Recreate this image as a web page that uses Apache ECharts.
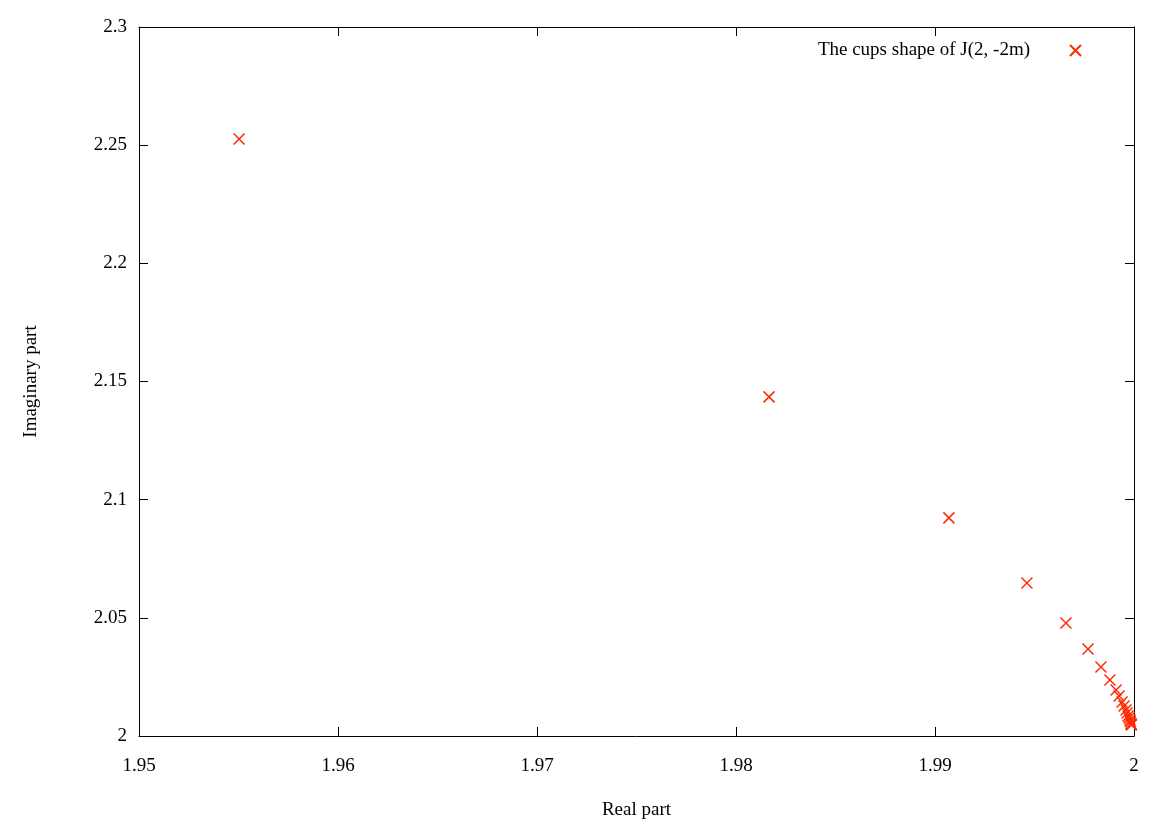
<!DOCTYPE html>
<html>
<head>
<meta charset="utf-8">
<script src="https://cdn.jsdelivr.net/npm/echarts@6/dist/echarts.min.js"></script>
<style>
  html, body { margin: 0; padding: 0; background: #fff; }
  #main { width: 1175px; height: 825px; }
</style>
</head>
<body>
<div id="main"></div>
<script>
// points (real part, imaginary part)
const realPart = [1.95503, 1.98166, 1.99070, 1.99462, 1.99658, 1.99769, 1.99834, 1.99879,
  1.99910, 1.99925, 1.99940, 1.99950, 1.99960, 1.99965, 1.99970, 1.99975,
  1.99980, 1.99982, 1.99985, 1.99987];
const imagPart = [2.2526, 2.1435, 2.0923, 2.0647, 2.0478, 2.0368, 2.0292, 2.0237,
  2.0195, 2.0169, 2.0144, 2.0127, 2.0110, 2.0097, 2.0085, 2.0076,
  2.0068, 2.0060, 2.0052, 2.0047];
const seriesName = 'The cups shape of J(2, -2m)';

const points = realPart.map((x, i) => [x, imagPart[i]]);

const font = '"Liberation Serif", "DejaVu Serif", serif';
const red = '#ff2a00';
const cross = 'path://M0,0L10,10M10,0L0,10';

const xBase = { type: 'value', min: 1.95, max: 2, interval: 0.01 };
const yBase = { type: 'value', min: 2, max: 2.3, interval: 0.05 };
const lineStyle = { color: '#000', width: 1 };
const tick = { show: true, inside: true, length: 9, lineStyle: lineStyle };
const txt = { fontFamily: font, fontSize: 19, color: '#000' };

let myChart = echarts.init(document.getElementById('main'))
myChart.setOption({
  animation: false,
  backgroundColor: '#fff',
  grid: { left: 139, right: 41, top: 27, bottom: 89, outerBoundsMode: 'none' },
  legend: {
    right: 88,
    top: 36,
    align: 'right',
    itemWidth: 11,
    itemHeight: 11,
    textStyle: Object.assign({ padding: [0, 35, 0, 0] }, txt),
    data: [seriesName]
  },
  xAxis: [
    Object.assign({}, xBase, {
      position: 'bottom',
      name: 'Real part',
      nameLocation: 'middle',
      nameGap: 65,
      nameTextStyle: txt,
      axisLine: { show: true, lineStyle: lineStyle },
      axisTick: tick,
      axisLabel: Object.assign({ margin: 21 }, txt),
      splitLine: { show: false }
    }),
    Object.assign({}, xBase, {
      position: 'top',
      axisLine: { show: true, lineStyle: lineStyle },
      axisTick: tick,
      axisLabel: { show: false },
      splitLine: { show: false }
    })
  ],
  yAxis: [
    Object.assign({}, yBase, {
      position: 'left',
      name: 'Imaginary part',
      nameLocation: 'middle',
      nameGap: 98,
      nameRotate: 90,
      nameTextStyle: txt,
      axisLine: { show: true, lineStyle: lineStyle },
      axisTick: tick,
      axisLabel: Object.assign({ margin: 12 }, txt),
      splitLine: { show: false }
    }),
    Object.assign({}, yBase, {
      position: 'right',
      axisLine: { show: true, lineStyle: lineStyle },
      axisTick: tick,
      axisLabel: { show: false },
      splitLine: { show: false }
    })
  ],
  series: [{
    name: seriesName,
    type: 'scatter',
    xAxisIndex: 0,
    yAxisIndex: 0,
    symbol: cross,
    symbolSize: 11,
    itemStyle: { color: 'rgba(0,0,0,0)', borderColor: red, borderWidth: 1.5, opacity: 1 },
    data: points
  }]
})
</script>
</body>
</html>
